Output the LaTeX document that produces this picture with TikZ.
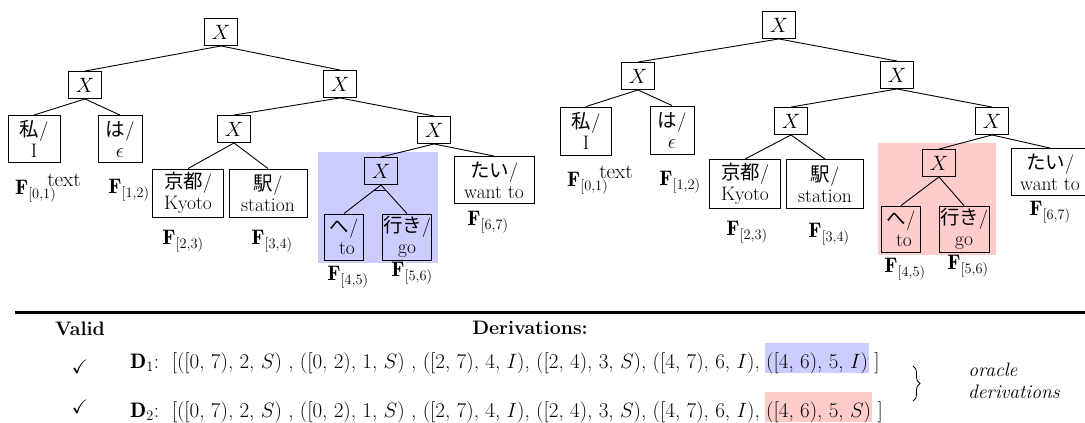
\documentclass[tikz,border=0pt]{standalone}
\usepackage{amsmath,amssymb}
\usepackage{fontspec}
\newfontfamily\jp{Noto Sans CJK JP}
\usetikzlibrary{decorations.pathreplacing,calc}
\newcommand{\Ftext}[1]{$\mathbf{F}_{#1}$\kern-9pt\raisebox{8pt}{text}}
\begin{document}
\begin{tikzpicture}[x=1pt,y=-1pt,
  font=\fontsize{19.5}{21}\selectfont,
  xbox/.style={draw, line width=0.9pt, minimum width=33pt, minimum height=27pt, inner sep=0pt},
  leaf/.style={draw, line width=0.9pt, align=center, inner sep=0pt, minimum height=47pt},
  flab/.style={inner sep=0pt},
  fl/.style={inner sep=0pt, font=\fontsize{21}{24}\selectfont},
  edg/.style={line width=0.9pt},
  dline/.style={inner sep=0pt, anchor=base west, font=\fontsize{21}{24}\selectfont},
  hl/.style={dline, inner xsep=1pt, text height=25pt, text depth=5pt},
]
\useasboundingbox (0,0) rectangle (1085,423);
\definecolor{hlblue}{RGB}{204,204,255}
\definecolor{hlred}{RGB}{255,204,204}
% highlight regions
\fill[hlblue] (318,152) rectangle (438,263);
\fill[hlred] (878,143) rectangle (996,255);
% ---------- left tree ----------
\node[xbox] (r1) at (221,32) {$X$};
\node[xbox] (a1) at (85,85) {$X$};
\node[leaf, minimum width=52pt] (l1) at (34,139) {{\jp 私}/\\I};
\node[leaf, minimum width=44pt] (l2) at (120,139) {{\jp は}/\\$\epsilon$};
\node[xbox] (b1) at (340,84) {$X$};
\node[xbox] (c1) at (234,129) {$X$};
\node[leaf, minimum width=71pt, minimum height=48pt] (l3) at (188,193) {{\jp 京都}/\\Kyoto};
\node[leaf, minimum width=78pt, minimum height=48pt] (l4) at (268,193) {{\jp 駅}/\\station};
\node[xbox] (d1) at (434,130) {$X$};
\node[xbox] (e1) at (381,171) {$X$};
\node[leaf, minimum width=39pt, minimum height=46pt] (l5) at (344,237) {{\jp へ}/\\\ to};
\node[leaf, minimum width=49pt, minimum height=46pt] (l6) at (407,237) {{\jp 行き}/\\go};
\node[leaf, minimum width=80pt] (l7) at (494,180) {{\jp たい}/\\want to};
\foreach \p/\c in {r1/a1,r1/b1,a1/l1,a1/l2,b1/c1,b1/d1,c1/l3,c1/l4,d1/e1,d1/l7,e1/l5,e1/l6}
  \draw[edg] (\p.south) -- (\c.north);
\draw[edg] ($(e1.south)!0.2!(l5.north)$) -- ($(e1.south)!0.2!(l6.north)$);
\node[fl] (f01) at (48,188) {\Ftext{[0,1)}};
\node[fl] (f12) at (129,190) {$\mathbf{F}_{[1,2)}$};
\node[fl] (f23) at (183,241) {$\mathbf{F}_{[2,3)}$};
\node[fl] (f34) at (272,241) {$\mathbf{F}_{[3,4)}$};
\node[fl] (f45) at (348,277) {$\mathbf{F}_{[4,5)}$};
\node[fl] (f56) at (412,273) {$\mathbf{F}_{[5,6)}$};
\node[fl] (f67) at (488,222) {$\mathbf{F}_{[6,7)}$};
% ---------- right tree ----------
\node[xbox] (r2) at (779,25) {$X$};
\node[xbox] (a2) at (638,76) {$X$};
\node[leaf, minimum width=51pt, minimum height=48pt] (m1) at (586,131) {{\jp 私}/\\I};
\node[leaf, minimum width=44pt, minimum height=48pt] (m2) at (672,130) {{\jp は}/\\$\epsilon$};
\node[xbox] (b2) at (897,75) {$X$};
\node[xbox] (c2) at (791,121) {$X$};
\node[leaf, minimum width=71pt, minimum height=49pt] (m3) at (745,184) {{\jp 京都}/\\Kyoto};
\node[leaf, minimum width=77pt, minimum height=49pt] (m4) at (825,184) {{\jp 駅}/\\station};
\node[xbox] (d2) at (992,121) {$X$};
\node[xbox] (e2) at (939,163) {$X$};
\node[leaf, minimum width=39pt, minimum height=46pt] (m5) at (901,229) {{\jp へ}/\\\ to};
\node[leaf, minimum width=50pt, minimum height=46pt] (m6) at (964,229) {{\jp 行き}/\\go};
\node[leaf, minimum width=78pt] (m7) at (1050,172) {{\jp たい}/\\want to};
\foreach \p/\c in {r2/a2,r2/b2,a2/m1,a2/m2,b2/c2,b2/d2,c2/m3,c2/m4,d2/e2,d2/m7,e2/m5,e2/m6}
  \draw[edg] (\p.south) -- (\c.north);
\node[fl] (g01) at (600,180) {\Ftext{[0,1)}};
\node[fl] (g12) at (680,182) {$\mathbf{F}_{[1,2)}$};
\node[fl] (g23) at (747,232) {$\mathbf{F}_{[2,3)}$};
\node[fl] (g34) at (829,234) {$\mathbf{F}_{[3,4)}$};
\node[fl] (g45) at (905,269) {$\mathbf{F}_{[4,5)}$};
\node[fl] (g56) at (968,266) {$\mathbf{F}_{[5,6)}$};
\node[fl] (g67) at (1050,212) {$\mathbf{F}_{[6,7)}$};
% ---------- table ----------
\coordinate (ruleL) at (15,312);
\coordinate (ruleR) at (1085,312);
\draw[line width=3pt] (ruleL) -- (ruleR);
\node[flab] (valid) at (80,329) {\textbf{Valid}};
\node[flab] (deriv) at (530,328) {\textbf{Derivations:}};
\node[flab] (ck1) at (80,367) {$\checkmark$};
\node[flab] (ck2) at (80,407) {$\checkmark$};
\node[dline] (dA) at (130,368) {$\mathbf{D}_1$:\ \ [([0, 7), 2, $S$) , ([0, 2), 1, $S$) , ([2, 7), 4, $I$), ([2, 4), 3, $S$), ([4, 7), 6, $I$),};
\node[hl, fill=hlblue] (hA) at ($(dA.base east)+(5,0)$) {([4, 6), 5, $I$)};
\node[dline] (eA) at ($(hA.base east)+(5,0)$) {]};
\node[dline] (dB) at (130,417) {$\mathbf{D}_2$:\ \ [([0, 7), 2, $S$) , ([0, 2), 1, $S$) , ([2, 7), 4, $I$), ([2, 4), 3, $S$), ([4, 7), 6, $I$),};
\node[hl, fill=hlred] (hB) at ($(dB.base east)+(5,0)$) {([4, 6), 5, $S$)};
\node[dline] (eB) at ($(hB.base east)+(5,0)$) {]};
\coordinate (brT) at (913,366);
\coordinate (brB) at (913,401);
\draw[line width=0.8pt, decorate, decoration={brace, amplitude=7pt}] (brT) -- (brB);
\node[flab] (or1) at (993,370) {\textit{oracle}};
\node[flab] (or2) at (1014,392) {\textit{derivations}};
\end{tikzpicture}
\end{document}
